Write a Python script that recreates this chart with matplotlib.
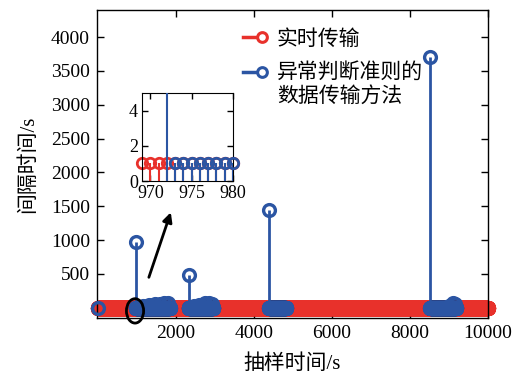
import numpy as np
import matplotlib
matplotlib.use("Agg")
import matplotlib.pyplot as plt
from matplotlib.patches import Ellipse
from matplotlib.lines import Line2D

# serif for digits and Latin, CJK family for the Chinese glyphs
plt.rcParams['font.family'] = ['Liberation Serif', 'Noto Sans CJK SC', 'DejaVu Sans']
RED = '#E8312B'
BLUE = '#2B55A3'

# real-time transmission: one sample every second, interval 1 s
rt_start, rt_end = 0, 10000
rt_interval = 1

# anomaly-triggered transmission: long gaps before each anomaly
spike_t = [0, 972, 2330, 4390, 8520]
spike_gap = [1, 972, 490, 1440, 3700]
# per-second transmission while an anomaly is active
burst_start = [973, 2331, 4391, 8521]
burst_end = [1840, 2950, 4820, 9180]
# occasional longer gaps inside the bursts
extra_t = [1150, 1300, 1450, 1600, 1700, 1790,
           2450, 2600, 2750, 2850, 2920,
           9000, 9100, 9160]
extra_gap = [30, 45, 50, 55, 70, 75,
             20, 45, 70, 75, 60,
             30, 65, 60]

xticks = [2000, 4000, 6000, 8000, 10000]
yticks = [500, 1000, 1500, 2000, 2500, 3000, 3500, 4000]
inset_xticks = [970, 975, 980]
inset_yticks = [0, 2, 4]

label_rt = '实时传输'
label_ad = '异常判断准则的\n数据传输方法'

# assemble series
rt_t = np.arange(rt_start, rt_end + 1, rt_interval)
rt_v = np.full(rt_t.shape, rt_interval, dtype=float)

ad_t = list(spike_t) + list(extra_t)
ad_v = list(spike_gap) + list(extra_gap)
for s, e in zip(burst_start, burst_end):
    seg = np.arange(s, e + 1)
    ad_t += list(seg)
    ad_v += [1] * len(seg)
ad_t = np.array(ad_t, dtype=float)
ad_v = np.array(ad_v, dtype=float)
order = np.argsort(ad_t)
ad_t, ad_v = ad_t[order], ad_v[order]

W, H = 515, 387
fig = plt.figure(figsize=(W / 100, H / 100), dpi=100)
ax = fig.add_axes([97 / W, 1 - 318 / H, (488 - 97) / W, (318 - 10) / H])

ms, mew = 8.5, 2.4
ax.vlines(rt_t, 0, rt_v, color=RED, lw=1.5, zorder=2)
ax.plot(rt_t, rt_v, 'o', mfc='none', mec=RED, ms=ms, mew=mew, zorder=2, clip_on=False)
ax.vlines(ad_t, 0, ad_v, color=BLUE, lw=2.0, zorder=3)
ax.plot(ad_t, ad_v, 'o', mfc='none', mec=BLUE, ms=ms, mew=mew, zorder=3, clip_on=False)

ax.set_xlim(-25, 10000)
ax.set_ylim(-150, 4400)
ax.set_xticks(xticks)
ax.set_yticks(yticks)
ax.tick_params(direction='in', top=True, right=True, length=5, width=1,
               labelsize=14, pad=5)
for sp in ax.spines.values():
    sp.set_linewidth(1.0)

ax.set_xlabel('抽样时间/s', fontsize=15, labelpad=9)
ax.set_ylabel('间隔时间/s', fontsize=15, labelpad=9)

# highlight of the zoomed region and pointer to the inset
ax.add_patch(Ellipse((950, -45), width=440, height=360, fill=False,
                     ec='black', lw=2, clip_on=False, zorder=6))
ax.annotate('', xy=(1890, 1450), xytext=(1282, 412),
            arrowprops=dict(arrowstyle='-|>', color='black', lw=2,
                            mutation_scale=14), zorder=6)

# inset around the first anomaly
axi = fig.add_axes([142 / W, 1 - 181 / H, (233 - 142) / W, (181 - 93) / H])
x0, x1 = 969, 980
ims, imew = 7.5, 2.0
m_rt = (rt_t >= x0) & (rt_t <= x1)
m_ad = (ad_t >= x0) & (ad_t <= x1)
axi.vlines(rt_t[m_rt], 0, rt_v[m_rt], color=RED, lw=1.5, zorder=2)
axi.plot(rt_t[m_rt], rt_v[m_rt], 'o', mfc='none', mec=RED, ms=ims, mew=imew,
         zorder=2, clip_on=False)
axi.vlines(ad_t[m_ad], 0, ad_v[m_ad], color=BLUE, lw=1.5, zorder=3)
small = m_ad & (ad_v <= 5)
axi.plot(ad_t[small], ad_v[small], 'o', mfc='none', mec=BLUE, ms=ims, mew=imew,
         zorder=3, clip_on=False)
axi.set_xlim(x0, x1)
axi.set_ylim(0, 5)
axi.set_xticks(inset_xticks)
axi.set_yticks(inset_yticks)
axi.tick_params(axis='x', direction='in', top=True, length=4, width=1,
                labelsize=13, pad=3)
axi.tick_params(axis='y', direction='in', right=True, length=4, width=1,
                labelsize=13, pad=3)

# legend drawn by hand so the marker sits on the first text line
def legend_handle(y_px, color):
    y = 1 - y_px / H
    fig.add_artist(Line2D([243 / W, 262 / W], [y, y], color=color, lw=2.5,
                          marker='o', markevery=[1], mfc='white', mec=color,
                          ms=7, mew=2.2))

legend_handle(37, RED)
fig.text(277 / W, 1 - 40 / H, label_rt, fontsize=15, va='center', ha='left')
legend_handle(72, BLUE)
fig.text(277 / W, 1 - 63 / H, label_ad, fontsize=15, va='top', ha='left',
         linespacing=1.25)

fig.savefig('out.png', dpi=100)
